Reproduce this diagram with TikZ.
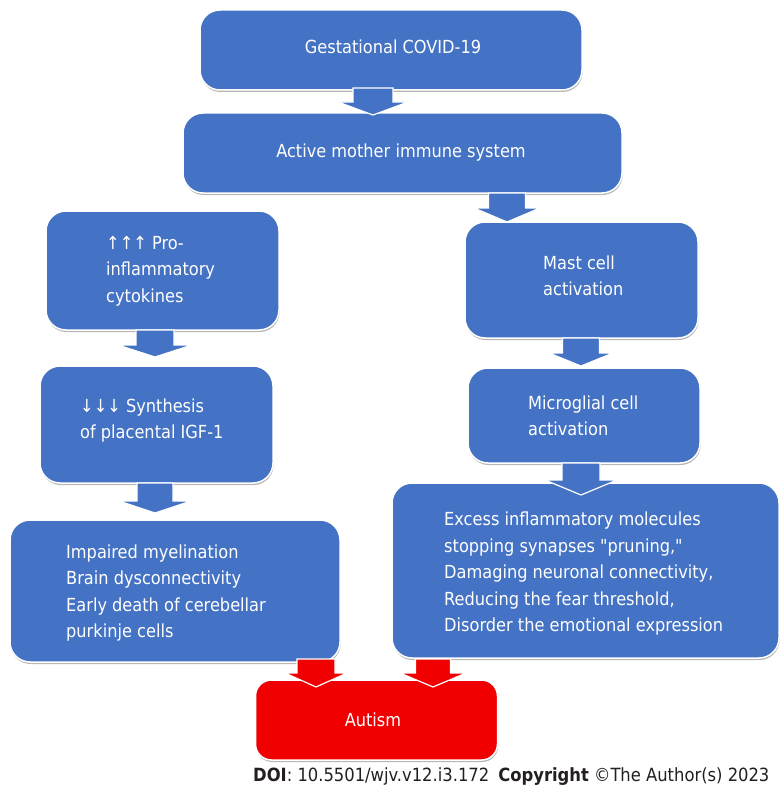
\documentclass[tikz,border=0pt]{standalone}
\usepackage{fontspec}
\setmainfont{DejaVu Sans Condensed}
\usetikzlibrary{shadows}
\definecolor{boxblue}{RGB}{68,114,196}
\definecolor{autred}{RGB}{240,0,0}
\definecolor{doitext}{RGB}{35,31,32}
\tikzset{
  box/.style={draw=white, line width=1.5pt, fill=boxblue, rounded corners=20pt, inner sep=0pt,
    drop shadow={shadow xshift=0.6pt, shadow yshift=-2pt, opacity=0.4, fill=black!70},
    text=white, font=\fontsize{18}{26.5}\selectfont},
  redbox/.style={box, fill=autred, rounded corners=16pt},
  boxtext/.style={text=white, align=left, inner sep=0pt, anchor=west, font=\fontsize{18}{26.5}\selectfont},
  bluearrow/.style={fill=boxblue, draw=white, line width=1.2pt, line join=miter},
  redarrow/.style={fill=autred, draw=white, line width=1.2pt, line join=miter},
}
% #1 centre x, #2 shaft top, #3 head base, #4 tip, #5 shaft half width, #6 head half width, #7 style
\newcommand\blockarrow[7]{%
  \draw[#7] ({#1-#5},#2) -- ({#1+#5},#2) -- ({#1+#5},#3) -- ({#1+#6},#3) -- (#1,#4)
    -- ({#1-#6},#3) -- ({#1-#5},#3) -- cycle;}
\newcommand\dq{\XeTeXglyph\XeTeXcharglyph"22\relax}
\begin{document}
\begin{tikzpicture}[x=1pt, y=-1pt]
\useasboundingbox (0,0) rectangle (779,789);
% boxes
\node[box, minimum width=382pt, minimum height=80pt] (b1) at (391,50) {};
\node[box, minimum width=439pt, minimum height=80pt] (b2) at (402.5,153) {};
\node[box, minimum width=233pt, minimum height=119pt] (b3) at (162.5,270.5) {};
\node[box, minimum width=233pt, minimum height=116pt] (b4) at (581.5,280) {};
\node[box, minimum width=233pt, minimum height=117pt] (b5) at (156.5,424.5) {};
\node[box, minimum width=232pt, minimum height=95pt] (b6) at (584,415.5) {};
\node[box, minimum width=330pt, minimum height=142pt] (b7) at (175,591) {};
\node[box, minimum width=387pt, minimum height=175pt] (b8) at (585.5,570.5) {};
\node[redbox, minimum width=242pt, minimum height=80pt] (b9) at (376.5,720) {};
% texts
\node[boxtext, anchor=center] (t1) at (393,47) {Gestational COVID-19};
\node[boxtext, anchor=center] (t2) at (401,153) {Active mother immune system};
\node[boxtext] (t3) at (106,271) {↑↑↑ Pro-\\inflammatory\\cytokines};
\node[boxtext] (t4) at (543,276) {Mast cell\\activation};
\node[boxtext] (t5) at (80,420.5) {↓↓↓ Synthesis\\of placental IGF-1};
\node[boxtext] (t6) at (528,416) {Microglial cell\\activation};
\node[boxtext] (t7) at (66,593) {Impaired myelination\\Brain dysconnectivity\\Early death of cerebellar\\purkinje cells};
\node[boxtext] (t8) at (444,574) {Excess inflammatory molecules\\stopping synapses \dq pruning,\dq\\Damaging neuronal connectivity,\\Reducing the fear threshold,\\Disorder the emotional expression};
\node[boxtext, anchor=center] (t9) at (373,720) {Autism};
% block arrows
\blockarrow{373}{88}{102}{115}{20}{35}{bluearrow}
\blockarrow{507}{193}{208}{222}{18.5}{33}{bluearrow}
\blockarrow{155}{330}{345}{357}{19}{37}{bluearrow}
\blockarrow{155}{483}{501}{513}{18}{36}{bluearrow}
\blockarrow{581}{338}{353}{366}{18.5}{32}{bluearrow}
\blockarrow{581}{463}{480}{495}{19}{36}{bluearrow}
\blockarrow{316}{659}{673}{687}{19}{31}{redarrow}
\blockarrow{433}{659}{673}{687}{17.5}{33}{redarrow}
% footer
\node[anchor=west, inner sep=0pt, text=doitext, font=\fontsize{18.2}{22}\selectfont] (doi) at (253,777)
  {\textbf{DOI}: 10.5501/wjv.v12.i3.172\hspace{0.5em}\textbf{Copyright} ©The Author(s) 2023};
\end{tikzpicture}
\end{document}
